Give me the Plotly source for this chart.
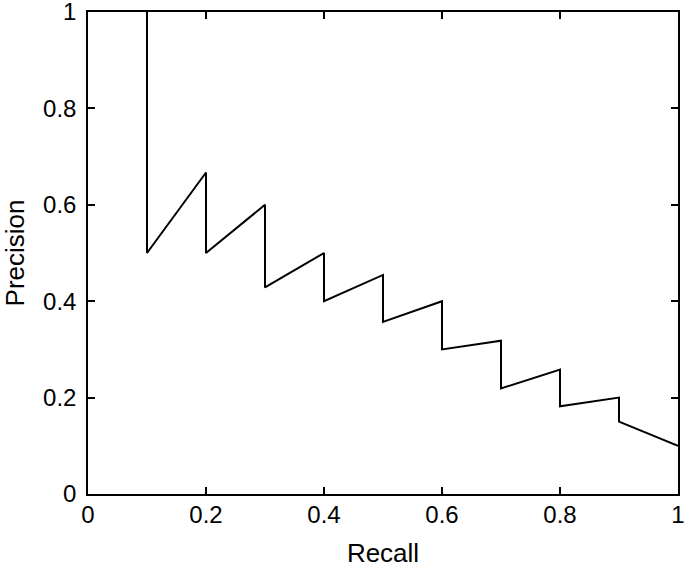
import plotly.graph_objects as go

recall = [0.1, 0.1, 0.2, 0.2, 0.3, 0.3, 0.4, 0.4, 0.5, 0.5,
          0.6, 0.6, 0.7, 0.7, 0.8, 0.8, 0.9, 0.9, 1.0]
precision = [1.0, 0.5, 0.667, 0.5, 0.6, 0.4286, 0.5, 0.4, 0.4545, 0.357,
             0.4, 0.3, 0.318, 0.219, 0.258, 0.182, 0.2, 0.15, 0.1]

x_ticks = [0, 0.2, 0.4, 0.6, 0.8, 1]
x_labels = ["0", "0.2", "0.4", "0.6", "0.8", "1"]
y_ticks = [0, 0.2, 0.4, 0.6, 0.8, 1]
y_labels = ["0", "0.2", "0.4", "0.6", "0.8", "1"]

FONT = "Liberation Sans, Arial, Helvetica, sans-serif"

fig = go.Figure()
fig.add_trace(go.Scatter(x=recall, y=precision, mode="lines",
                         line=dict(color="black", width=2), showlegend=False,
                         cliponaxis=False))

axis_common = dict(showgrid=False, zeroline=False, showline=True, linecolor="black",
                   linewidth=1.5, mirror="ticks", ticks="inside", ticklen=7,
                   tickwidth=1.5, tickcolor="black", ticklabeloverflow="allow",
                   tickfont=dict(family=FONT, size=24, color="black"))

fig.update_layout(
    width=685, height=568,
    margin=dict(l=88, r=7, t=12, b=74, autoexpand=False),
    plot_bgcolor="white", paper_bgcolor="white",
    font=dict(family=FONT, size=24, color="black"),
    xaxis=dict(range=[0, 1], tickvals=x_ticks, ticktext=x_labels, ticklabelstandoff=-2,
               title=dict(text="Recall", standoff=29, font=dict(size=26)), **axis_common),
    yaxis=dict(range=[0, 1], tickvals=y_ticks, ticktext=y_labels, ticklabelstandoff=5,
               title=dict(text="Precision", standoff=12, font=dict(size=26)), **axis_common),
)

fig.write_html("out.html", config={"displayModeBar": False},
               post_script="document.body.style.margin='0';document.body.style.overflow='hidden';")
